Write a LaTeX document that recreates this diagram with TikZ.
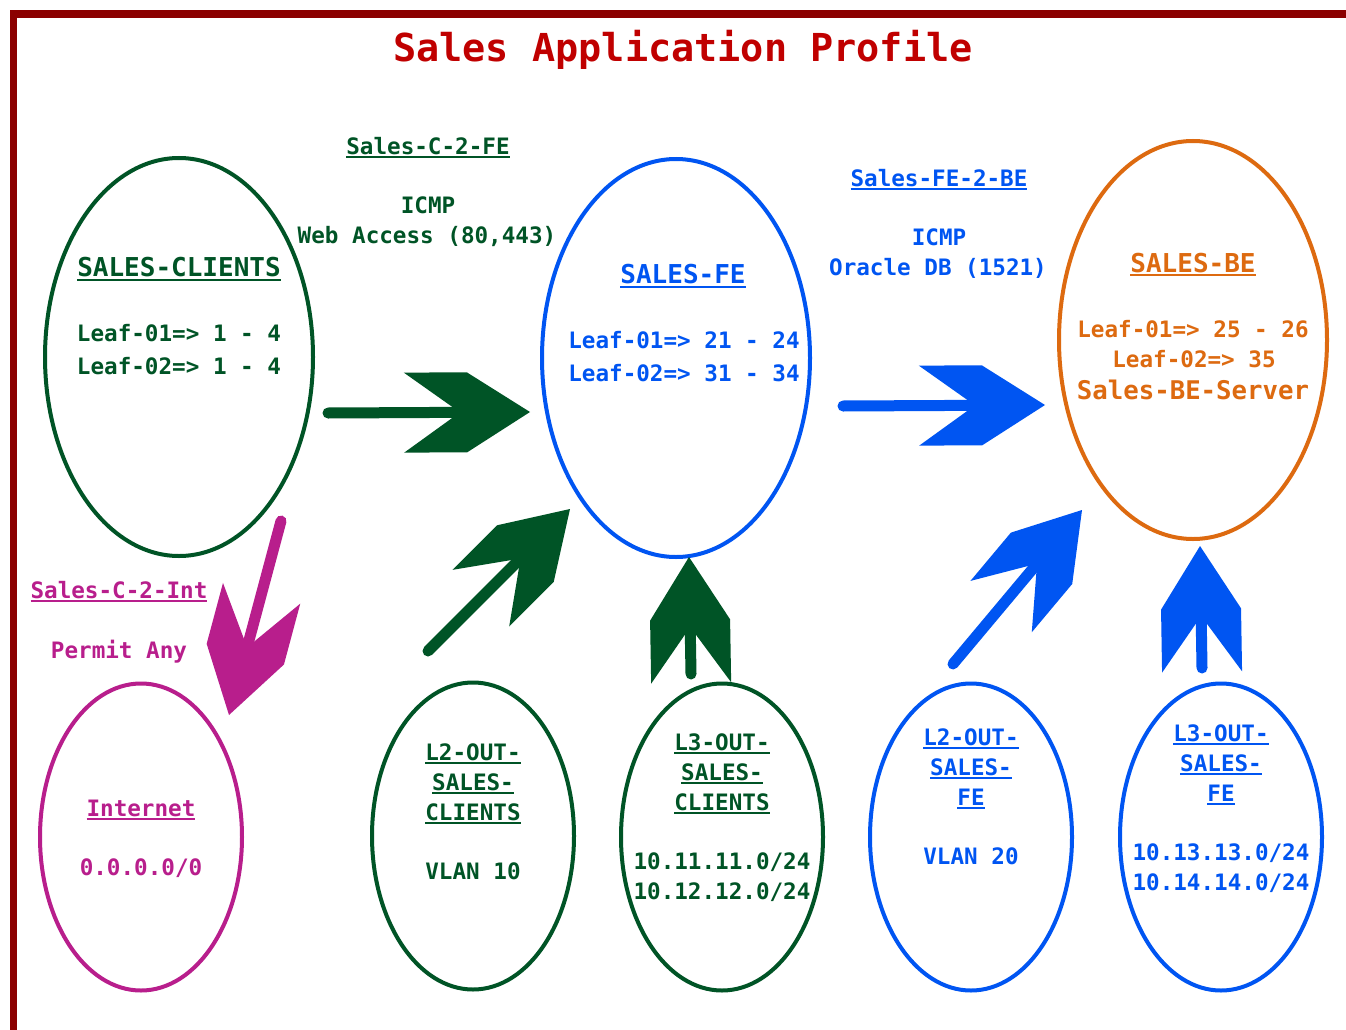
\documentclass[tikz,border=0pt]{standalone}
\usepackage{fontspec}
\setmainfont{DejaVu Sans Mono}
\usetikzlibrary{calc,shapes.geometric}
\definecolor{cgreen}{RGB}{0,84,38}
\definecolor{cblue}{RGB}{0,85,242}
\definecolor{corange}{RGB}{221,106,16}
\definecolor{cmag}{RGB}{184,30,140}
\definecolor{cred}{RGB}{192,0,0}
\definecolor{cborder}{RGB}{139,0,0}
\newcommand\ulx[1]{\setbox0\hbox{#1}\rlap{\rule[-0.17em]{\wd0}{0.075em}}\box0}
\newcommand\chev[3]{%
  \coordinate (#3-n) at ($(#3)!70pt!(#2)$);
  \coordinate (#3-f) at ($(#3)!63pt!(#2)$);
  \coordinate (#3-b) at ($(#3)!126pt!(#2)$);
  \draw[#1, line width=11pt, line cap=round] (#2) -- (#3-n);
  \fill[#1] (#3) -- ($(#3-f)!40pt!90:(#3)$) -- ($(#3-b)!40pt!90:(#3)$) -- (#3-n)
    -- ($(#3-b)!40pt!-90:(#3)$) -- ($(#3-f)!40pt!-90:(#3)$) -- cycle;}
\begin{document}
\begin{tikzpicture}[x=1pt,y=-1pt,
  ell/.style={draw, ellipse, line width=4pt, inner sep=0pt},
  big/.style={ell, minimum width=268pt, minimum height=398pt},
  small/.style={ell, minimum width=202pt, minimum height=307pt},
  txt/.style={anchor=base, inner sep=0pt, font=\bfseries\fontsize{22.6}{26}\selectfont},
  hd/.style={txt, font=\bfseries\fontsize{26}{30}\selectfont}]
\useasboundingbox (0,0) rectangle (1346,1030);
\fill[white] (0,0) rectangle (1346,1030);
% border
\fill[cborder] (10,10) rectangle (1346,18);
\fill[cborder] (10,10) rectangle (17,1030);
% title
\node[anchor=base, inner sep=0pt, text=cred, font=\bfseries\fontsize{38.5}{44}\selectfont] (title) at (683,62) {Sales Application Profile};
% big ellipses
\node[big, cgreen] (clients) at (179,357) {};
\node[big, cblue] (fe) at (676,358) {};
\node[big, corange] (be) at (1193,340) {};
% small ellipses
\node[small, cmag] (inet) at (141,837) {};
\node[small, cgreen] (l2c) at (473,836) {};
\node[small, cgreen] (l3c) at (722,837) {};
\node[small, cblue] (l2f) at (971,837) {};
\node[small, cblue] (l3f) at (1221,837) {};
% SALES-CLIENTS text
\node[hd, text=cgreen] (t-cl) at (179,276.5) {\ulx{SALES-CLIENTS}};
\node[txt, text=cgreen] (t-cl1) at (179,341) {Leaf-01=> 1 - 4};
\node[txt, text=cgreen] (t-cl2) at (179,374) {Leaf-02=> 1 - 4};
% SALES-FE text
\node[hd, text=cblue] (t-fe) at (683,283.5) {\ulx{SALES-FE}};
\node[txt, text=cblue] (t-fe1) at (684,348) {Leaf-01=> 21 - 24};
\node[txt, text=cblue] (t-fe2) at (684,381) {Leaf-02=> 31 - 34};
% SALES-BE text
\node[hd, text=corange] (t-be) at (1193,272) {\ulx{SALES-BE}};
\node[txt, text=corange] (t-be1) at (1193,337) {Leaf-01=> 25 - 26};
\node[txt, text=corange] (t-be2) at (1194,367) {Leaf-02=> 35};
\node[txt, text=corange, font=\bfseries\fontsize{25.7}{30}\selectfont] (t-be3) at (1193,399) {Sales-BE-Server};
% contract labels
\node[txt, text=cgreen] (c1) at (428,154) {\ulx{Sales-C-2-FE}};
\node[txt, text=cgreen] (c1a) at (428,213) {ICMP};
\node[txt, text=cgreen] (c1b) at (427,243) {Web Access (80,443)};
\node[txt, text=cblue] (c2) at (939,186) {\ulx{Sales-FE-2-BE}};
\node[txt, text=cblue] (c2a) at (939,245) {ICMP};
\node[txt, text=cblue] (c2b) at (938,275) {Oracle DB (1521)};
\node[txt, text=cmag] (c3) at (119,598) {\ulx{Sales-C-2-Int}};
\node[txt, text=cmag] (c3a) at (119,658) {Permit Any};
% Internet
\node[txt, text=cmag] (t-in) at (141,816) {\ulx{Internet}};
\node[txt, text=cmag] (t-in1) at (141,875) {0.0.0.0/0};
% L2-OUT-SALES-CLIENTS
\node[txt, text=cgreen] (t-l2c1) at (473,760) {\ulx{L2-OUT-}};
\node[txt, text=cgreen] (t-l2c2) at (473,790) {\ulx{SALES-}};
\node[txt, text=cgreen] (t-l2c3) at (473,820) {\ulx{CLIENTS}};
\node[txt, text=cgreen] (t-l2c4) at (473,879) {VLAN 10};
% L3-OUT-SALES-CLIENTS
\node[txt, text=cgreen] (t-l3c1) at (722,750) {\ulx{L3-OUT-}};
\node[txt, text=cgreen] (t-l3c2) at (722,780) {\ulx{SALES-}};
\node[txt, text=cgreen] (t-l3c3) at (722,810) {\ulx{CLIENTS}};
\node[txt, text=cgreen] (t-l3c4) at (722,869) {10.11.11.0/24};
\node[txt, text=cgreen] (t-l3c5) at (722,899) {10.12.12.0/24};
% L2-OUT-SALES-FE
\node[txt, text=cblue] (t-l2f1) at (971,745) {\ulx{L2-OUT-}};
\node[txt, text=cblue] (t-l2f2) at (971,775) {\ulx{SALES-}};
\node[txt, text=cblue] (t-l2f3) at (971,805) {\ulx{FE}};
\node[txt, text=cblue] (t-l2f4) at (971,864) {VLAN 20};
% L3-OUT-SALES-FE
\node[txt, text=cblue] (t-l3f1) at (1221,741) {\ulx{L3-OUT-}};
\node[txt, text=cblue] (t-l3f2) at (1221,771) {\ulx{SALES-}};
\node[txt, text=cblue] (t-l3f3) at (1221,801) {\ulx{FE}};
\node[txt, text=cblue] (t-l3f4) at (1221,860) {10.13.13.0/24};
\node[txt, text=cblue] (t-l3f5) at (1221,890) {10.14.14.0/24};
% arrows
\coordinate (a1s) at (328,413); \coordinate (a1t) at (530,412);
\coordinate (a2s) at (843,406); \coordinate (a2t) at (1045,405);
\coordinate (a3s) at (428,651); \coordinate (a3t) at (570,509);
\coordinate (a4s) at (691,674); \coordinate (a4t) at (689,557);
\coordinate (a5s) at (281,521); \coordinate (a5t) at (229,715);
\coordinate (a6s) at (953,664); \coordinate (a6t) at (1082,510);
\coordinate (a7s) at (1202,668); \coordinate (a7t) at (1200,546);
\chev{cgreen}{a1s}{a1t}
\chev{cblue}{a2s}{a2t}
\chev{cgreen}{a3s}{a3t}
\chev{cgreen}{a4s}{a4t}
\chev{cmag}{a5s}{a5t}
\chev{cblue}{a6s}{a6t}
\chev{cblue}{a7s}{a7t}
\end{tikzpicture}
\end{document}
